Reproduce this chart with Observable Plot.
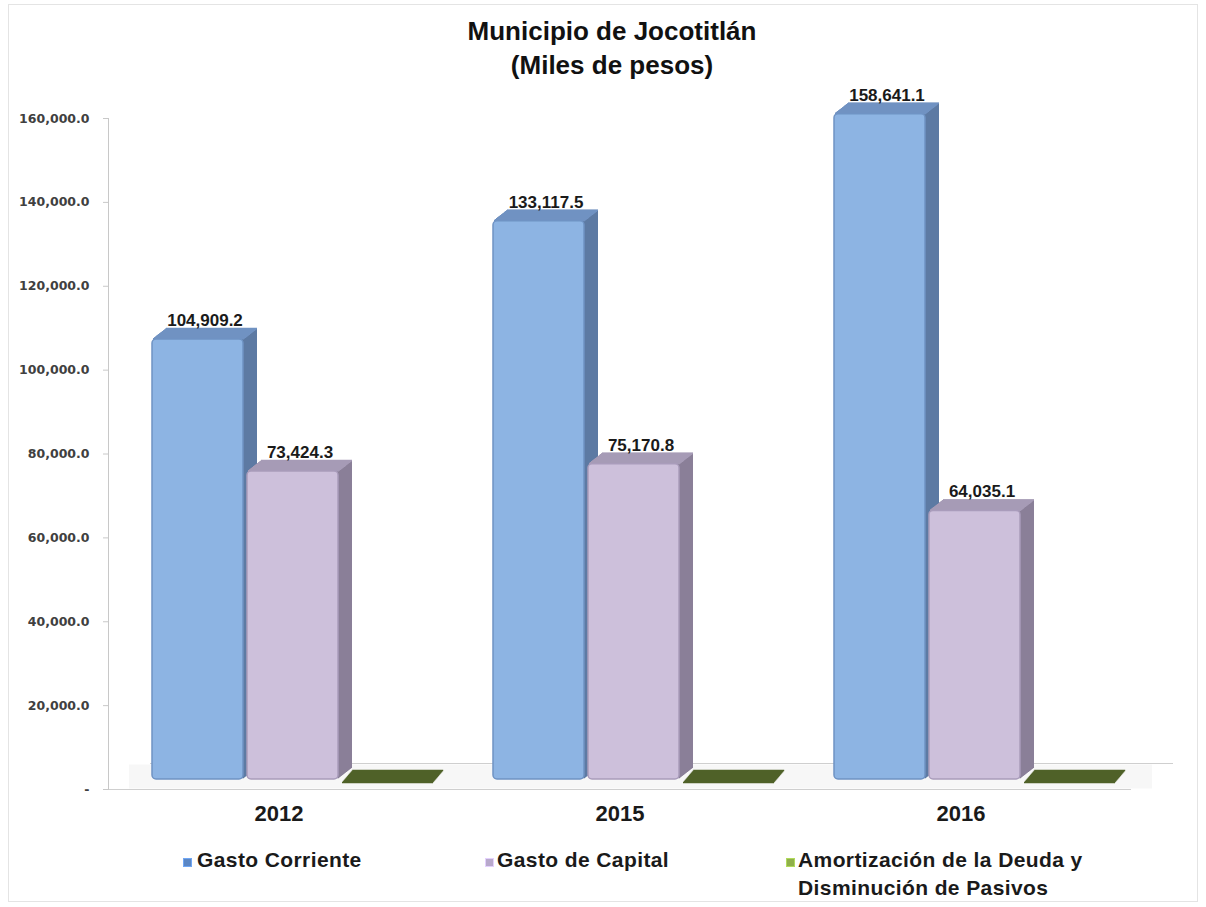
<!DOCTYPE html>
<html>
<head>
<meta charset="utf-8">
<script src="https://cdn.jsdelivr.net/npm/d3@7"></script>
<script src="https://cdn.jsdelivr.net/npm/@observablehq/plot@0.6"></script>
<style>
  body { margin: 0; background: #fff; }
  #wrap { position: relative; width: 1206px; height: 907px; overflow: hidden; font-family: "Liberation Sans", Arial, sans-serif; }
  #border { position: absolute; left: 8px; top: 4px; width: 1190px; height: 898px; border: 1px solid #e4e4e4; box-sizing: border-box; }
  #title { position: absolute; left: 9px; top: 14px; width: 1206px; text-align: center; font-weight: bold; font-size: 26px; line-height: 34px; color: #111; }
  #chart { position: absolute; left: 0; top: 90px; }
  .leg { position: absolute; font-weight: bold; font-size: 21px; line-height: 28px; color: #1a1a1a; letter-spacing: 0.4px; }
  .sw { position: absolute; width: 9px; height: 9px; box-sizing: border-box; }
</style>
</head>
<body>
<div id="wrap">
  <div id="border"></div>
  <div id="title">Municipio de Jocotitlán<br>(Miles de pesos)</div>
  <div id="chart"></div>
  <div id="legend"></div>
</div>
<script>
// ---- data ----
const years = ["2012", "2015", "2016"];
const series = ["Gasto Corriente", "Gasto de Capital", "Amortización de la Deuda y Disminución de Pasivos"];
const gastoCorriente = [104909.2, 133117.5, 158641.1];
const gastoCapital = [73424.3, 75170.8, 64035.1];
const amortizacion = [0, 0, 0];
const yTicks = [0, 20000, 40000, 60000, 80000, 100000, 120000, 140000, 160000];
const legendLines = [["Gasto Corriente"], ["Gasto de Capital"], ["Amortización de la Deuda y", "Disminución de Pasivos"]];

// ---- styles ----
const palette = {
  [series[0]]: {front: "#8db4e3", side: "#5d7aa3", top: "#7192c2", stroke: "#6f93c4", sw: "#5b87c5"},
  [series[1]]: {front: "#cdc0db", side: "#8a7f98", top: "#a69bb6", stroke: "#a99cbb", sw: "#b8a9cc"},
  [series[2]]: {front: "#4f6228", side: "#4f6228", top: "#4f6228", stroke: "#4f6228", sw: "#8fb04a"}
};

const values = [gastoCorriente, gastoCapital, amortizacion];
const data = years.flatMap((yr, i) => series.map((s, j) => ({year: yr, serie: s, value: values[j][i]})));
const solid = data.filter(d => d.value > 0);
const flat = data.filter(d => d.value === 0);
const fmt = d3.format(",.1f");

const depth = 14, lift = -10;
const marks = [];

// floor
marks.push(Plot.ruleY([0], {stroke: "#f7f7f7", strokeWidth: 24, dy: -13, dx: 21}));
marks.push(Plot.ruleY([0], {stroke: "#cfcfcf", strokeWidth: 1.2, dy: -26, dx: 42}));
marks.push(Plot.ruleY([0], {stroke: "#cfcfcf", strokeWidth: 1.2}));

// flat (zero) bars lying on the floor, skewed like a parallelogram
for (let k = 0; k <= 12; k++) {
  marks.push(Plot.tickY(flat, {fx: "year", x: "serie", y: "value", stroke: palette[series[2]].front, strokeWidth: 1.4, dy: -7 - k, dx: k * 0.85}));
}

// 3D extrusion: side + top faces
for (const s of series.slice(0, 2)) {
  const sub = solid.filter(d => d.serie === s);
  for (let k = depth; k >= 1; k--) {
    const ddy = lift - k * 0.78;
    marks.push(Plot.barY(sub, {fx: "year", x: "serie", y: "value", fill: palette[s].side, dx: k, dy: ddy}));
  }
  for (let k = depth; k >= 1; k--) {
    const ddy = lift - k * 0.78;
    marks.push(Plot.tickY(sub, {fx: "year", x: "serie", y: "value", stroke: palette[s].top, strokeWidth: 1.6, dx: k, dy: ddy}));
  }
  marks.push(Plot.barY(sub, {fx: "year", x: "serie", y: "value", fill: palette[s].front, stroke: palette[s].stroke, strokeWidth: 1.5, rx: 4, dy: lift}));
}

// value labels
marks.push(Plot.text(solid, {fx: "year", x: "serie", y: "value", text: d => fmt(d.value), dy: -29, dx: 7, fontSize: 17, fontWeight: "bold", fill: "#1a1a1a"}));

// axes
marks.push(Plot.frame({anchor: "left", stroke: "#c8c8c8", facetAnchor: "left"}));
marks.push(Plot.axisY(yTicks, {tickFormat: d => d === 0 ? "-" : fmt(d), tickSize: 5, tickPadding: 14, fontSize: 12.5, fontWeight: "bold", fontFamily: "'DejaVu Sans', Verdana, sans-serif", fill: "#404040", stroke: "#c8c8c8", label: null}));
marks.push(Plot.axisFx({anchor: "bottom", tickSize: 0, tickPadding: 16, fontSize: 22, fontWeight: "bold", fill: "#1a1a1a", label: null}));

const chart = Plot.plot({
  width: 1206,
  height: 745,
  marginLeft: 108,
  marginRight: 75,
  marginTop: 28,
  marginBottom: 46,
  style: {fontFamily: "'Liberation Sans', Arial, sans-serif", background: "transparent", overflow: "visible"},
  fx: {domain: years, padding: 0, label: null},
  x: {domain: series, axis: null, paddingInner: 0.045, paddingOuter: 0, insetLeft: 44, insetRight: 16},
  y: {domain: [0, 160000], label: null},
  marks
});
document.getElementById("chart").appendChild(chart);

// legend
const legPos = [{sx: 183, tx: 197}, {sx: 485, tx: 497}, {sx: 786, tx: 798}];
const legend = document.getElementById("legend");
series.forEach((s, i) => {
  const sw = document.createElement("div");
  sw.className = "sw";
  sw.style.left = legPos[i].sx + "px";
  sw.style.top = "858px";
  sw.style.background = palette[s].sw;
  sw.style.border = "1px solid " + d3.color(palette[s].sw).brighter(0.6);
  legend.appendChild(sw);
  const t = document.createElement("div");
  t.className = "leg";
  t.style.left = legPos[i].tx + "px";
  t.style.top = "846px";
  t.innerHTML = legendLines[i].join("<br>");
  legend.appendChild(t);
});
</script>
</body>
</html>
